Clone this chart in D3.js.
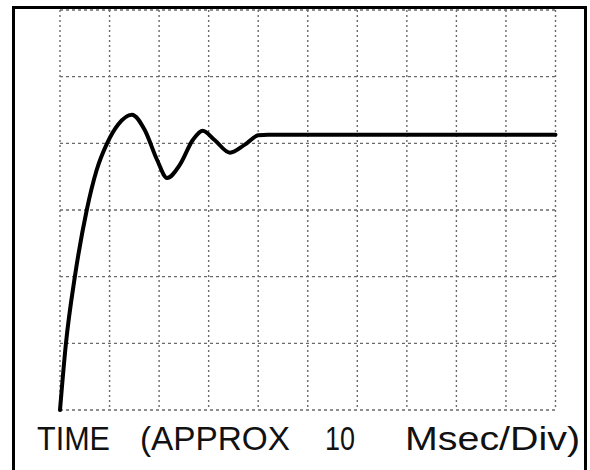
<!DOCTYPE html>
<html>
<head>
<meta charset="utf-8">
<script src="https://cdn.jsdelivr.net/npm/d3@7"></script>
<style>
  body { margin: 0; background: #fff; }
</style>
</head>
<body>
<div id="chart"></div>
<script>
// time in divisions, response in divisions
const timeDiv = [0, 0.12, 0.30, 0.54, 0.74, 0.95, 1.17, 1.45, 1.71, 1.96, 2.16, 2.42, 2.68, 2.88, 3.12, 3.43, 3.73, 4.0, 4.2, 10]
const response = [0, 1.0, 2.0, 3.0, 3.6, 4.0, 4.28, 4.43, 4.2, 3.75, 3.48, 3.68, 4.05, 4.19, 4.05, 3.86, 3.98, 4.12, 4.13, 4.13]
const labelWords = ["TIME", "(APPROX", "10", "Msec/Div)"]

const dimensions = { width: 590, height: 470 }
const margin = { top: 10, right: 34, bottom: 60, left: 60 }

const x = d3.scaleLinear()
  .domain([0, 10])
  .range([margin.left, dimensions.width - margin.right - 0.5])

const y = d3.scaleLinear()
  .domain([0, 6])
  .range([dimensions.height - margin.bottom, margin.top])

const svg = d3.select('#chart')
  .append('svg')
    .attr('width', dimensions.width)
    .attr('height', dimensions.height)

// frame
svg.append('rect')
  .attr('x', 13.5)
  .attr('y', 7.5)
  .attr('width', 572)
  .attr('height', 475)
  .attr('fill', 'none')
  .attr('stroke', '#000')
  .attr('stroke-width', 3)

// grid
const grid = svg.append('g')
  .attr('stroke', '#6a6a6a')
  .attr('stroke-width', 1.4)
  .attr('fill', 'none')

grid.selectAll('line.v')
  .data(x.ticks(10))
  .enter().append('line')
    .attr('class', 'v')
    .attr('x1', d => x(d)).attr('x2', d => x(d))
    .attr('y1', y(6)).attr('y2', y(0))
    .attr('stroke-dasharray', '2,3')

grid.selectAll('line.h')
  .data(y.ticks(6))
  .enter().append('line')
    .attr('class', 'h')
    .attr('y1', d => y(d)).attr('y2', d => y(d))
    .attr('x1', x(0)).attr('x2', x(10))
    .attr('stroke-dasharray', '3,3')

// trace
const line = d3.line()
  .x((d, i) => x(timeDiv[i]))
  .y(d => y(d))
  .curve(d3.curveMonotoneX)

svg.append('path')
  .datum(response)
  .attr('fill', 'none')
  .attr('stroke', '#000')
  .attr('stroke-width', 4)
  .attr('stroke-linejoin', 'round')
  .attr('stroke-linecap', 'round')
  .attr('d', line)

// axis caption
const wordPos = [[37, 73], [140, 150], [325, 30], [405, 175]]
svg.append('g')
  .attr('font-family', 'Liberation Sans, Arial, sans-serif')
  .attr('font-size', 34)
  .attr('fill', '#111')
  .selectAll('text')
  .data(labelWords)
  .enter().append('text')
    .attr('x', (d, i) => wordPos[i][0])
    .attr('y', 450)
    .attr('textLength', (d, i) => wordPos[i][1])
    .attr('lengthAdjust', 'spacingAndGlyphs')
    .text(d => d)
</script>
</body>
</html>
